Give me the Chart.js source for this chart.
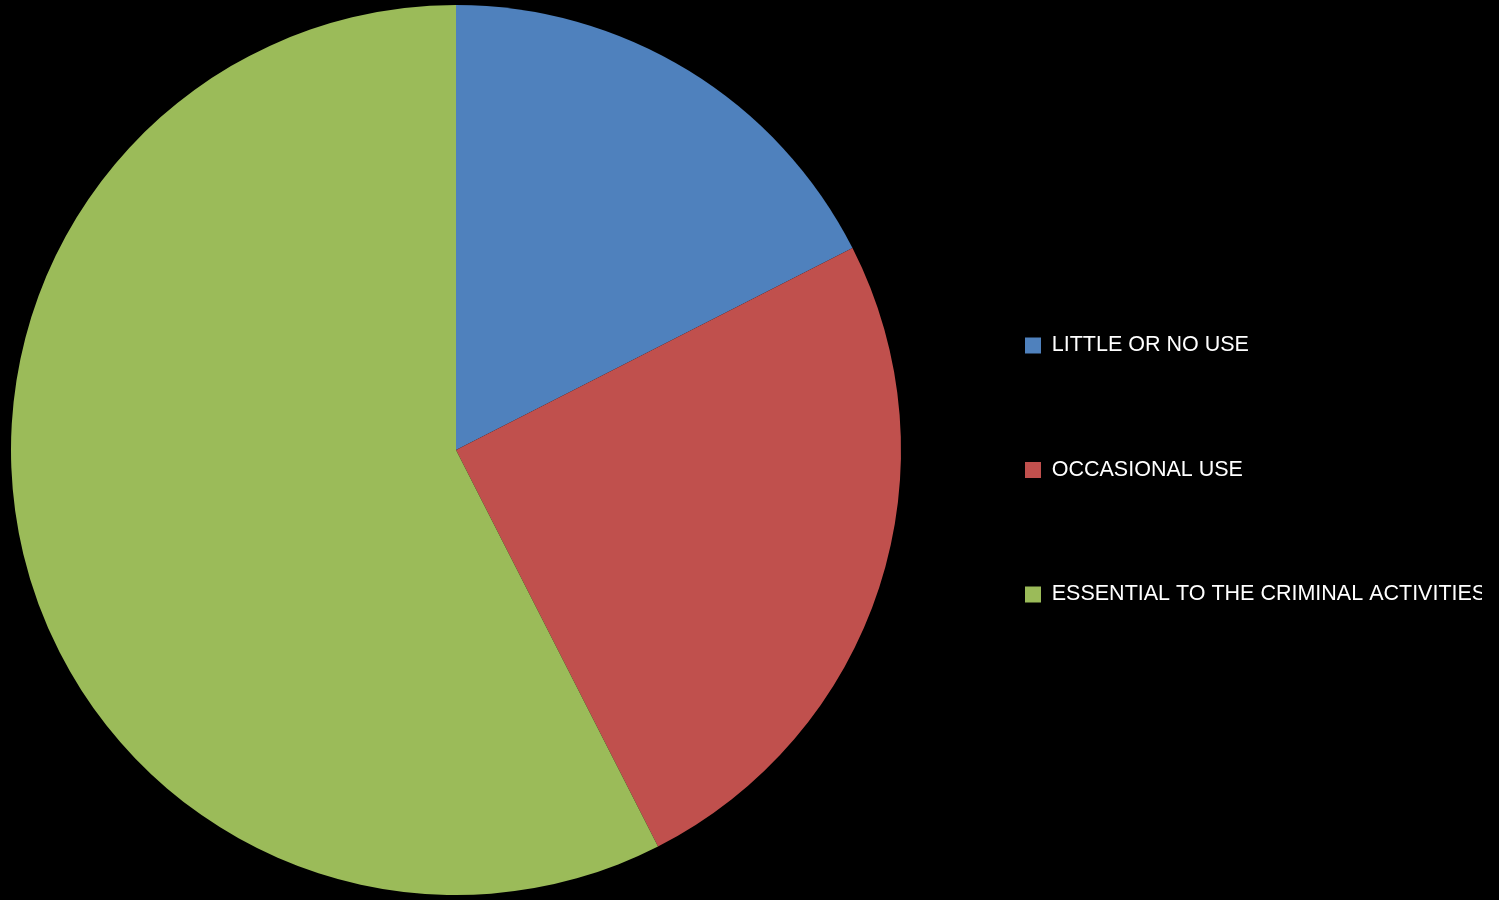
<!DOCTYPE html>
<html>
<head>
<meta charset="utf-8">
<script src="https://cdn.jsdelivr.net/npm/chart.js@4"></script>
<style>
  html, body { margin: 0; padding: 0; background: #000; overflow: hidden; }
  /* canvas a bit wider and nudged left so the pie sits where the original does */
  #wrap { width: 1509px; height: 900px; margin-left: -10px; }
</style>
</head>
<body>
<div id="wrap"><canvas id="myChart"></canvas></div>
<script>
// categories and shares (percent)
var labels = ["LITTLE OR NO USE", "OCCASIONAL USE", "ESSENTIAL TO THE CRIMINAL ACTIVITIES"];
var shares = [17.5, 25, 57.5];
var colors = ["#4F81BD", "#C0504D", "#9BBB59"];

var ctx = document.getElementById('myChart').getContext('2d');
var chart = new Chart(ctx, {
	type: 'pie',
	data: {
		labels: labels,
		datasets: [{
			data: shares,
			backgroundColor: colors,
			borderWidth: 0
		}]
	},
	options: {
		responsive: true,
		maintainAspectRatio: false,
		animation: false,
		layout: {
			padding: { top: 5, bottom: 5, left: 0, right: 17 }
		},
		plugins: {
			tooltip: { enabled: false },
			legend: {
				position: 'right',
				maxWidth: 560,
				// blank title only to push the entries down a bit
				title: {
					display: true,
					text: '',
					font: { size: 10 },
					padding: { top: 14, bottom: 14 }
				},
				labels: {
					color: '#ffffff',
					boxWidth: 16,
					boxHeight: 16,
					padding: 103,
					font: { family: "'Liberation Sans', Arial, sans-serif", size: 21.5 }
				}
			}
		}
	}
});
</script>
</body>
</html>
